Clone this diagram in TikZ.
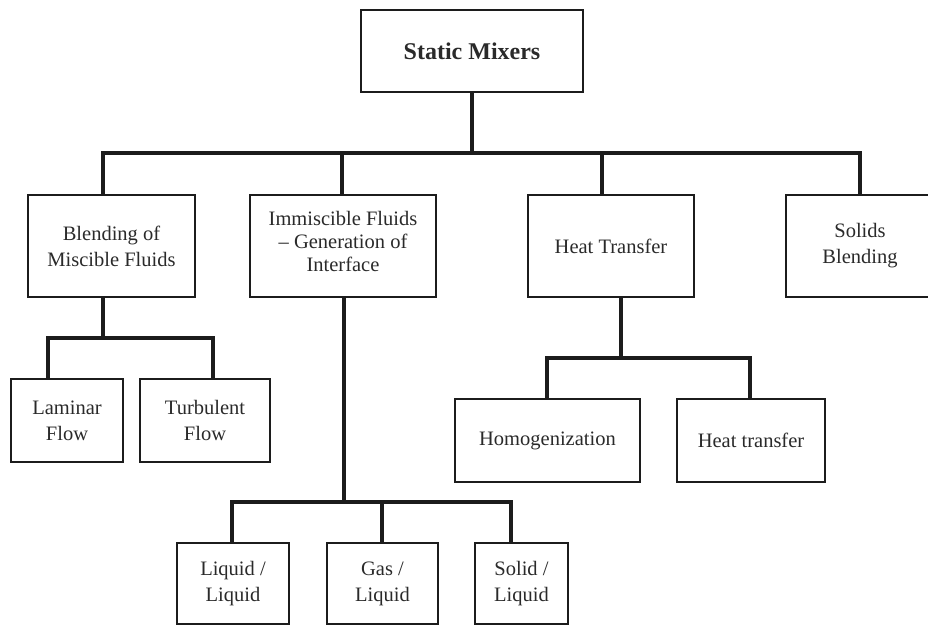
\documentclass[tikz,border=0pt]{standalone}
\usepackage{fontspec}
\setmainfont{Liberation Serif}
\definecolor{ink}{HTML}{1C1C1C}
\definecolor{txt}{HTML}{2A2A2A}
\begin{document}
\begin{tikzpicture}[x=1pt,y=-1pt,
  box/.style={draw=ink,line width=1.2pt,fill=white,rectangle,inner sep=0pt,align=center,
    text=txt,font=\fontsize{20.5}{26}\selectfont},
  conn/.style={draw=ink,line width=3.1pt,line join=miter}]
\clip (0,0) rectangle (928,626);
\fill[white] (0,0) rectangle (928,626);
% nodes
\node[box,minimum width=222pt,minimum height=82pt,font=\fontsize{24}{28}\selectfont\bfseries] (top) at (472,51) {Static Mixers};
\node[box,minimum width=167pt,minimum height=102pt] (blend) at (111.5,246) {Blending of\\Miscible Fluids};
\node[box,minimum width=186pt,minimum height=102pt,font=\fontsize{20.5}{23}\selectfont] (immis) at (343,246) {};
\node[txt,align=center,font=\fontsize{20.5}{23}\selectfont,inner sep=0pt] (immistxt) at (343,241) {Immiscible Fluids\\– Generation of\\Interface};
\node[box,minimum width=166pt,minimum height=102pt] (heat) at (611,246) {Heat Transfer};
\node[box,minimum width=148pt,minimum height=102pt] (solids) at (860,246) {Solids\\Blending};
\node[box,minimum width=112pt,minimum height=83pt] (laminar) at (67,420.5) {Laminar\\Flow};
\node[box,minimum width=130pt,minimum height=83pt] (turb) at (205,420.5) {Turbulent\\Flow};
\node[box,minimum width=185pt,minimum height=83pt] (homog) at (547.5,440.5) {Homogenization};
\node[box,minimum width=148pt,minimum height=83pt] (heattr) at (751,440.5) {Heat transfer};
\node[box,minimum width=112pt,minimum height=81pt] (liqliq) at (233,583.5) {Liquid /\\Liquid};
\node[box,minimum width=111pt,minimum height=81pt] (gasliq) at (382.5,583.5) {Gas /\\Liquid};
\node[box,minimum width=93pt,minimum height=81pt] (solliq) at (521.5,583.5) {Solid /\\Liquid};
% junction coordinates
\coordinate (d1) at (103,153);
\coordinate (d2) at (342,153);
\coordinate (d3) at (602,153);
\coordinate (d4) at (860,153);
\coordinate (e1) at (48,338);
\coordinate (e2) at (213,338);
\coordinate (f0) at (344,502);
\coordinate (f1) at (232,502);
\coordinate (f2) at (382,502);
\coordinate (f3) at (511,502);
\coordinate (g0) at (621,358);
\coordinate (g1) at (547,358);
\coordinate (g2) at (750,358);
% connectors
\draw[conn] (top.south) -- (top.south |- d1);
\draw[conn] (d1 |- blend.north) -- (d1) -- (d4) -- (d4 |- solids.north);
\draw[conn] (d2) -- (d2 |- immis.north);
\draw[conn] (d3) -- (d3 |- heat.north);
\draw[conn] (d1 |- blend.south) -- (d1 |- e1);
\draw[conn] (e1 |- laminar.north) -- (e1) -- (e2) -- (e2 |- turb.north);
\draw[conn] (f0 |- immis.south) -- (f0);
\draw[conn] (f1 |- liqliq.north) -- (f1) -- (f3) -- (f3 |- solliq.north);
\draw[conn] (f2) -- (f2 |- gasliq.north);
\draw[conn] (g0 |- heat.south) -- (g0);
\draw[conn] (g1 |- homog.north) -- (g1) -- (g2) -- (g2 |- heattr.north);
% redraw box borders on top
\foreach \n in {top,blend,immis,heat,solids,laminar,turb,homog,heattr,liqliq,gasliq,solliq}
  \draw[ink,line width=1.2pt] (\n.north west) rectangle (\n.south east);
\end{tikzpicture}
\end{document}
